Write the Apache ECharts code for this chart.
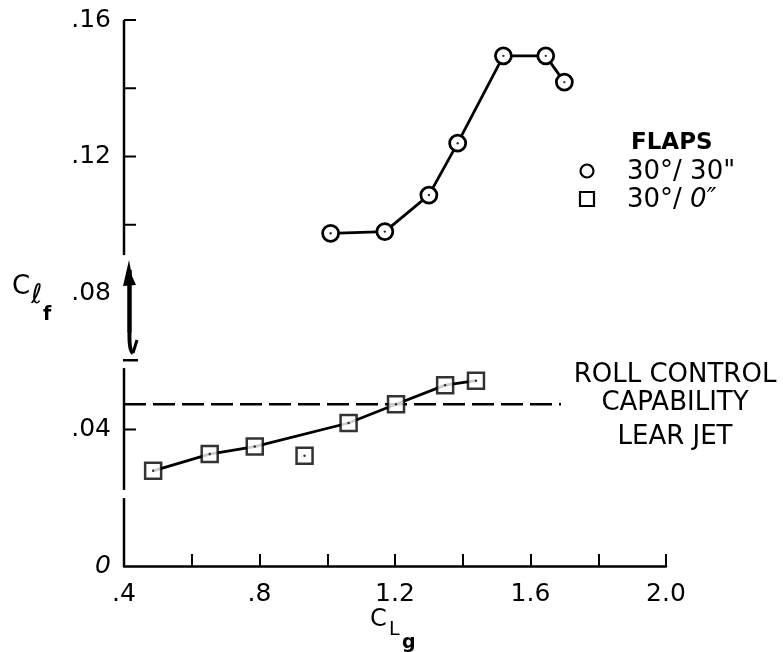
<!DOCTYPE html>
<html>
<head>
<meta charset="utf-8">
<script src="https://cdn.jsdelivr.net/npm/echarts@6/dist/echarts.min.js"></script>
<style>html,body{margin:0;padding:0;background:#fff}#c{width:783px;height:652px}</style>
</head>
<body>
<div id="c"></div>
<script>
// ---- data ----
const flaps30_30_CL = [1.01, 1.17, 1.30, 1.385, 1.52, 1.645, 1.70];
const flaps30_30_Cl = [0.0975, 0.098, 0.1087, 0.1239, 0.1495, 0.1495, 0.1418];
const flaps30_0_CL = [0.486, 0.653, 0.786, 0.933, 1.063, 1.203, 1.348, 1.439];
const flaps30_0_Cl = [0.0279, 0.0328, 0.0350, 0.0323, 0.0419, 0.0474, 0.0530, 0.0543];
const flaps30_0_onLine = [true, true, true, false, true, true, true, true];
const learJetCl = [0.0474, 0.0474];
const learJetCL = [0.4, 1.69];
const xLabelValues = [0.4, 0.8, 1.2, 1.6, 2.0];
const xLabelTexts = ['.4', '.8', '1.2', '1.6', '2.0'];
const yLabelValues = [0, 0.04, 0.08, 0.12, 0.16];
const yLabelTexts = ['{i|0}', '.04', '.08', '.12', '.16'];
const yTickValues = [0.16, 0.14, 0.12, 0.10, 0.04];
const yAxisSegments = [[0.16, 0.0911], [0.0580, 0.0223], [0.0199, 0]];

const FONT = '"DejaVu Sans", sans-serif';
const pair = (xs, ys) => xs.map((x, i) => [x, ys[i]]);
const circles = pair(flaps30_30_CL, flaps30_30_Cl);
const squares = pair(flaps30_0_CL, flaps30_0_Cl);
const squareLine = squares.filter((p, i) => flaps30_0_onLine[i]);

function findLabel(vals, texts, v) {
  for (let i = 0; i < vals.length; i++) if (Math.abs(vals[i] - v) < 1e-6) return texts[i];
  return '';
}

const chart = echarts.init(document.getElementById('c'), null, {renderer: 'canvas'});
const txt = (x, y, text, font, extra) => Object.assign({type: 'text', x: x, y: y,
  style: {text: text, font: font, fill: '#000', verticalAlign: 'middle'}}, extra || {});
const option = {
  backgroundColor: '#fff',
  animation: false,
  grid: {left: 124, top: 20, width: 542, height: 546},
  xAxis: {
    type: 'value', min: 0.4, max: 2.0, interval: 0.2,
    axisLine: {lineStyle: {color: '#000', width: 2.5}},
    axisTick: {inside: true, length: 12, lineStyle: {color: '#000', width: 2}},
    splitLine: {show: false},
    axisLabel: {
      color: '#000', fontFamily: 'DejaVu Sans', fontSize: 25, margin: 16,
      showMinLabel: true, showMaxLabel: true,
      formatter: v => findLabel(xLabelValues, xLabelTexts, v)
    }
  },
  yAxis: {
    type: 'value', min: 0, max: 0.16, interval: 0.02,
    axisLine: {show: false},
    axisTick: {show: false},
    splitLine: {show: false},
    axisLabel: {
      color: '#000', fontFamily: 'DejaVu Sans', fontSize: 25, margin: 13,
      showMinLabel: true, showMaxLabel: true,
      formatter: v => findLabel(yLabelValues, yLabelTexts, v),
      rich: {i: {fontStyle: 'italic', fontFamily: 'DejaVu Sans', fontSize: 25, color: '#000'}}
    }
  },
  series: [
    {
      name: 'axisDecor', type: 'custom', silent: true, z: 1, clip: false,
      data: [[0.4, 0]],
      renderItem: function (params, api) {
        const children = [];
        yAxisSegments.forEach(s => {
          const a = api.coord([0.4, s[0]]), b = api.coord([0.4, s[1]]);
          children.push({type: 'line', shape: {x1: a[0], y1: a[1], x2: b[0], y2: b[1]},
            style: {stroke: '#000', lineWidth: 2.5}});
        });
        yTickValues.forEach(v => {
          const a = api.coord([0.4, v]);
          children.push({type: 'line', shape: {x1: a[0], y1: a[1], x2: a[0] + 12, y2: a[1]},
            style: {stroke: '#000', lineWidth: 2}});
        });
        // broken-axis arrow symbol
        const x0 = api.coord([0.4, 0])[0];
        const tip = api.coord([0.4, 0.0897])[1];
        const bot = api.coord([0.4, 0.0685])[1];
        const hook = api.coord([0.4, 0.0624])[1];
        const ul = api.coord([0.4, 0.0603])[1];
        children.push({type: 'polygon', shape: {points: [[x0 + 5, tip], [x0 - 1, tip + 26], [x0 + 12, tip + 25], [x0 + 8, tip + 16]]},
          style: {fill: '#000'}});
        children.push({type: 'line', shape: {x1: x0 + 5.5, y1: tip + 10, x2: x0 + 5.5, y2: bot},
          style: {stroke: '#000', lineWidth: 4.5}});
        children.push({type: 'bezierCurve', shape: {x1: x0 + 5.5, y1: bot - 1, x2: x0 + 9, y2: hook, cpx1: x0 + 5, cpy1: hook - 2},
          style: {stroke: '#000', lineWidth: 4, fill: null}});
        children.push({type: 'line', shape: {x1: x0 + 9, y1: hook, x2: x0 + 13, y2: hook - 13},
          style: {stroke: '#000', lineWidth: 3}});
        children.push({type: 'line', shape: {x1: x0 - 1, y1: ul, x2: x0 + 14, y2: ul},
          style: {stroke: '#000', lineWidth: 2.5}});
        return {type: 'group', children: children};
      }
    },
    {
      name: 'ROLL CONTROL CAPABILITY LEAR JET', type: 'line', z: 2,
      data: pair(learJetCL, learJetCl), symbol: 'none',
      lineStyle: {color: '#000', width: 2.6, type: [22, 7]}
    },
    {
      name: '30°/ 30"', type: 'line', z: 3,
      data: circles, symbol: 'circle', symbolSize: 16, showSymbol: true,
      lineStyle: {color: '#000', width: 2.8},
      itemStyle: {color: '#fff', borderColor: '#000', borderWidth: 2.8}
    },
    {
      name: '30°/ 0" line', type: 'line', z: 3,
      data: squareLine, symbol: 'none',
      lineStyle: {color: '#000', width: 2.8}
    },
    {
      name: '30°/ 0"', type: 'scatter', z: 4,
      data: squares, symbol: 'rect', symbolSize: 16,
      itemStyle: {color: '#fff', borderColor: '#000', borderWidth: 2.5}
    },
    {
      name: 'centre dots', type: 'scatter', z: 5, silent: true,
      data: circles.concat(squares), symbol: 'circle', symbolSize: 2.4,
      itemStyle: {color: '#000'}
    }
  ],
  graphic: [
    // y axis title C_{l_f}
    txt(12, 287, 'C', '26px ' + FONT),
    txt(31, 296, 'ℓ', 'italic 27px ' + FONT),
    txt(43, 315, 'f', 'bold 19px ' + FONT),
    // x axis title C_{L_g}
    txt(370, 620, 'C', '24px ' + FONT),
    txt(389, 630, 'L', '19px ' + FONT),
    txt(402, 643, 'g', 'bold 19px ' + FONT),
    // legend
    txt(631, 143, 'FLAPS', 'bold 23px ' + FONT),
    {type: 'circle', shape: {cx: 587, cy: 171, r: 6.5}, style: {fill: '#fff', stroke: '#000', lineWidth: 2.2}},
    {type: 'rect', shape: {x: 580, y: 192, width: 14, height: 14}, style: {fill: '#fff', stroke: '#000', lineWidth: 2.2}},
    txt(627, 172, '30°/ 30"', '26px ' + FONT),
    {type: 'text', x: 627, y: 200, style: {text: '{a|30°/ }{b|0″}', fill: '#000', verticalAlign: 'middle',
      rich: {a: {font: '26px ' + FONT, fill: '#000'}, b: {font: 'italic 26px ' + FONT, fill: '#000'}}}},
    // reference line label
    txt(675, 375, 'ROLL CONTROL', '26px ' + FONT, {}),
    txt(675, 403, 'CAPABILITY', '26px ' + FONT, {}),
    txt(675, 437, 'LEAR JET', '26px ' + FONT, {})
  ]
};
option.graphic.slice(-3).forEach(g => { g.style.align = 'center'; });
chart.setOption(option);
</script>
</body>
</html>
